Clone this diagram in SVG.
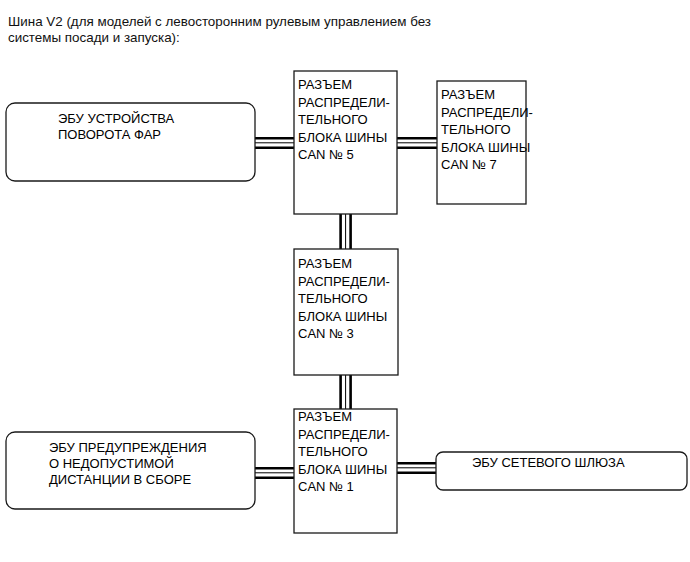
<svg xmlns="http://www.w3.org/2000/svg" width="690" height="562" viewBox="0 0 690 562">
<style>
  .box { fill: #fff; stroke: #1a1a1a; stroke-width: 1.3; }
  .t { font-family: "Liberation Sans", Arial, sans-serif; font-size: 13px; fill: #000; }
  .title { font-family: "Liberation Sans", Arial, sans-serif; font-size: 13.4px; fill: #111; }
  .thick { stroke: #000; stroke-width: 2.6; fill: none; }
  .thin { stroke: #000; stroke-width: 1; fill: none; }
</style>
<rect width="690" height="562" fill="#fff"/>
<g id="title">
  <text class="title" x="8" y="26">Шина V2 (для моделей с левосторонним рулевым управлением без</text>
  <text class="title" x="8" y="42">системы посади и запуска):</text>
</g>
<g id="connectors">
  <line class="thick" x1="255" y1="138.2" x2="294" y2="138.2"/>
  <line class="thin" x1="255" y1="142.8" x2="294" y2="142.8"/>
  <line class="thick" x1="255" y1="147.7" x2="294" y2="147.7"/>
  <line class="thick" x1="397" y1="138.2" x2="437" y2="138.2"/>
  <line class="thin" x1="397" y1="142.8" x2="437" y2="142.8"/>
  <line class="thick" x1="397" y1="147.7" x2="437" y2="147.7"/>
  <line class="thick" x1="340.6" y1="214" x2="340.6" y2="249"/>
  <line class="thin" x1="345.6" y1="214" x2="345.6" y2="249"/>
  <line class="thick" x1="350.6" y1="214" x2="350.6" y2="249"/>
  <line class="thick" x1="340.6" y1="375" x2="340.6" y2="409"/>
  <line class="thin" x1="345.6" y1="375" x2="345.6" y2="409"/>
  <line class="thick" x1="350.6" y1="375" x2="350.6" y2="409"/>
  <line class="thick" x1="255" y1="468.3" x2="294" y2="468.3"/>
  <line class="thin" x1="255" y1="472.8" x2="294" y2="472.8"/>
  <line class="thick" x1="255" y1="477.7" x2="294" y2="477.7"/>
  <line class="thick" x1="397" y1="463.3" x2="436" y2="463.3"/>
  <line class="thin" x1="397" y1="467.8" x2="436" y2="467.8"/>
  <line class="thick" x1="397" y1="472.7" x2="436" y2="472.7"/>
</g>
<g id="ecu-headlamp">
  <rect class="box" x="6" y="103" width="249" height="78" rx="9" ry="9"/>
  <text class="t" x="58" y="123">ЭБУ УСТРОЙСТВА</text>
  <text class="t" x="58" y="139">ПОВОРОТА ФАР</text>
</g>
<g id="can5">
  <rect class="box" x="294" y="71" width="103" height="143"/>
  <text class="t" x="298" y="89">РАЗЪЕМ</text>
  <text class="t" x="298" y="106.5">РАСПРЕДЕЛИ-</text>
  <text class="t" x="298" y="124">ТЕЛЬНОГО</text>
  <text class="t" x="298" y="141.5">БЛОКА ШИНЫ</text>
  <text class="t" x="298" y="159">CAN № 5</text>
</g>
<g id="can7">
  <rect class="box" x="437" y="81" width="89" height="123"/>
  <text class="t" x="441" y="99">РАЗЪЕМ</text>
  <text class="t" x="441" y="116.5">РАСПРЕДЕЛИ-</text>
  <text class="t" x="441" y="134">ТЕЛЬНОГО</text>
  <text class="t" x="441" y="151.5">БЛОКА ШИНЫ</text>
  <text class="t" x="441" y="169">CAN № 7</text>
</g>
<g id="can3">
  <rect class="box" x="294" y="249" width="104" height="126"/>
  <text class="t" x="298" y="268">РАЗЪЕМ</text>
  <text class="t" x="298" y="285.5">РАСПРЕДЕЛИ-</text>
  <text class="t" x="298" y="303">ТЕЛЬНОГО</text>
  <text class="t" x="298" y="320.5">БЛОКА ШИНЫ</text>
  <text class="t" x="298" y="338">CAN № 3</text>
</g>
<g id="can1">
  <rect class="box" x="294" y="409" width="103" height="124"/>
  <text class="t" x="298" y="421">РАЗЪЕМ</text>
  <text class="t" x="298" y="438.5">РАСПРЕДЕЛИ-</text>
  <text class="t" x="298" y="456">ТЕЛЬНОГО</text>
  <text class="t" x="298" y="473.5">БЛОКА ШИНЫ</text>
  <text class="t" x="298" y="491">CAN № 1</text>
</g>
<g id="ecu-distance">
  <rect class="box" x="6" y="432" width="249" height="77" rx="9" ry="9"/>
  <text class="t" x="49" y="452">ЭБУ ПРЕДУПРЕЖДЕНИЯ</text>
  <text class="t" x="49" y="468">О НЕДОПУСТИМОЙ</text>
  <text class="t" x="49" y="484">ДИСТАНЦИИ В СБОРЕ</text>
</g>
<g id="ecu-gateway">
  <rect class="box" x="436" y="452" width="251" height="38" rx="7" ry="7"/>
  <text class="t" x="472" y="467">ЭБУ СЕТЕВОГО ШЛЮЗА</text>
</g>
</svg>
